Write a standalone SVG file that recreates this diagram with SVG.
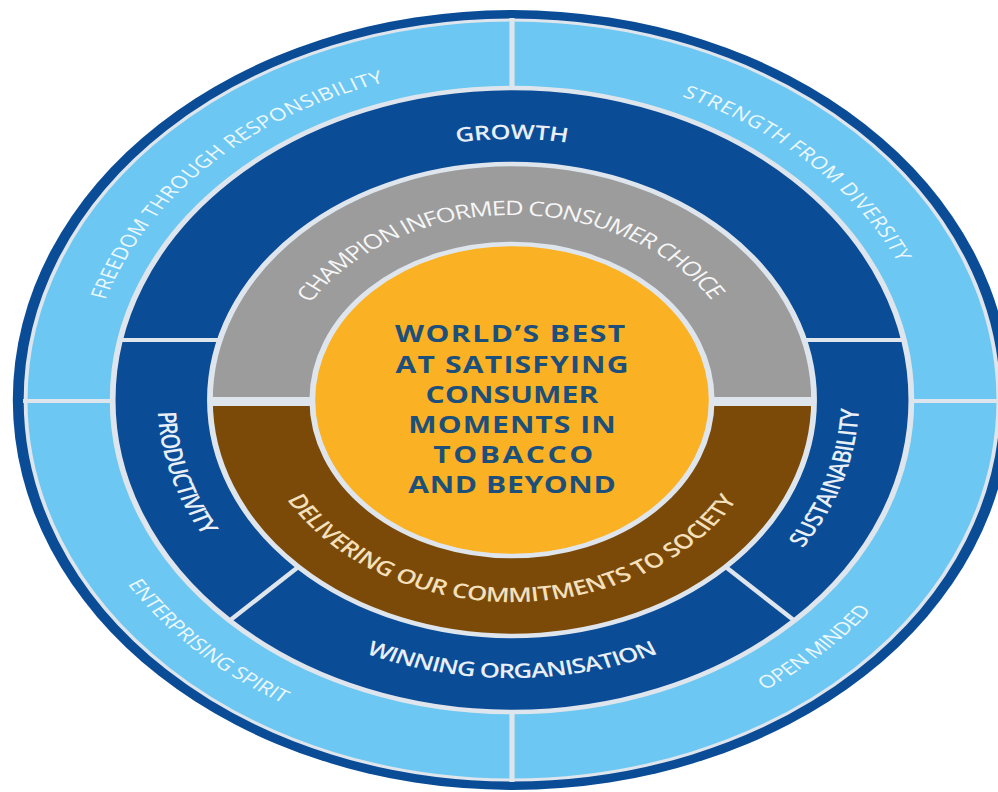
<svg xmlns="http://www.w3.org/2000/svg" width="998" height="792" viewBox="0 0 998 792">
<defs>
<style>
.sep{stroke:#dfe5ec;fill:none}
.lb{fill:#6cc8f2}
.db{fill:#0b4c97}
.t{font-family:"Open Sans","Noto Sans","Liberation Sans",sans-serif}
.outer{font-size:17.5px;font-weight:400;fill:#eef8fd}
.mid{font-size:20px;font-weight:600;fill:#e8eff7}
.gray{font-size:20px;font-weight:500;fill:#f6f6f6}
.brown{font-size:20px;font-weight:600;fill:#f4e0bc}
.core{font-family:"Open Sans","Noto Sans","Liberation Sans",sans-serif;font-size:23.5px;font-weight:700;fill:#1d4f7b;text-anchor:middle}
</style>
<path id="p-freedom" d="M -235.5 235.5 A 333 333 0 0 1 235.5 -235.5"/>
<path id="p-strength" d="M -236.8 -232.7 A 332 332 0 0 1 236.8 232.7"/>
<path id="p-enterprising" d="M -251.6 -247.6 A 353 353 0 0 0 251.6 247.6"/>
<path id="p-open" d="M -253.8 242.5 A 351 351 0 0 0 253.8 -242.5"/>
<path id="p-growth" d="M -261 0 A 261 261 0 0 1 261 0"/>
<path id="p-productivity" d="M -75.9 -266.4 A 277 277 0 0 0 75.9 266.4"/>
<path id="p-sustainability" d="M -82.4 261.3 A 274 274 0 0 0 82.4 -261.3"/>
<path id="p-winning" d="M -278 0 A 278 278 0 0 0 278 0"/>
<path id="p-champion" d="M -185 1.45 A 185 185 0 0 1 185 -1.45"/>
<path id="p-delivering" d="M -202 -0.35 A 202 202 0 0 0 202 0.35"/>
</defs>
<rect width="998" height="792" fill="#ffffff"/>
<g transform="translate(512 400) scale(1.28 1)">
  <circle id="outer-border" r="390" fill="#0b4c97"/>

  <g id="freedom-through-responsibility">
    <path class="lb" d="M -380 0 A 380 380 0 0 1 0 -380 L 0 -312 A 312 312 0 0 0 -312 0 Z"/>
    <text class="t outer" text-anchor="middle"><textPath href="#p-freedom" startOffset="50%" textLength="320" lengthAdjust="spacing">FREEDOM THROUGH RESPONSIBILITY</textPath></text>
  </g>
  <g id="strength-from-diversity">
    <path class="lb" d="M 0 -380 A 380 380 0 0 1 380 0 L 312 0 A 312 312 0 0 0 0 -312 Z"/>
    <text class="t outer" text-anchor="middle"><textPath href="#p-strength" startOffset="50%" textLength="242" lengthAdjust="spacing">STRENGTH FROM DIVERSITY</textPath></text>
  </g>
  <g id="open-minded">
    <path class="lb" d="M 380 0 A 380 380 0 0 1 0 380 L 0 312 A 312 312 0 0 0 312 0 Z"/>
    <text class="t outer" text-anchor="middle"><textPath href="#p-open" startOffset="50%" textLength="116" lengthAdjust="spacing">OPEN MINDED</textPath></text>
  </g>
  <g id="enterprising-spirit">
    <path class="lb" d="M 0 380 A 380 380 0 0 1 -380 0 L -312 0 A 312 312 0 0 0 0 312 Z"/>
    <text class="t outer" text-anchor="middle"><textPath href="#p-enterprising" startOffset="50%" textLength="172" lengthAdjust="spacing">ENTERPRISING SPIRIT</textPath></text>
  </g>

  <g id="growth">
    <path class="db" d="M -306.2 -60 A 312 312 0 0 1 306.2 -60 L 228.2 -60 A 236 236 0 0 0 -228.2 -60 Z"/>
    <text class="t mid" text-anchor="middle"><textPath href="#p-growth" startOffset="50%" textLength="87" lengthAdjust="spacing">GROWTH</textPath></text>
  </g>
  <g id="sustainability">
    <path class="db" d="M 306.2 -60 A 312 312 0 0 1 220.6 220.6 L 166.9 166.9 A 236 236 0 0 0 228.2 -60 Z"/>
    <text class="t mid" text-anchor="middle"><textPath href="#p-sustainability" startOffset="50%" textLength="148" lengthAdjust="spacing">SUSTAINABILITY</textPath></text>
  </g>
  <g id="winning-organisation">
    <path class="db" d="M 220.6 220.6 A 312 312 0 0 1 -220.6 220.6 L -166.9 166.9 A 236 236 0 0 0 166.9 166.9 Z"/>
    <text class="t mid" text-anchor="middle"><textPath href="#p-winning" startOffset="50%" textLength="236" lengthAdjust="spacing">WINNING ORGANISATION</textPath></text>
  </g>
  <g id="productivity">
    <path class="db" d="M -220.6 220.6 A 312 312 0 0 1 -306.2 -60 L -228.2 -60 A 236 236 0 0 0 -166.9 166.9 Z"/>
    <text class="t mid" text-anchor="middle"><textPath href="#p-productivity" startOffset="50%" textLength="130" lengthAdjust="spacing">PRODUCTIVITY</textPath></text>
  </g>

  <g id="champion-informed-consumer-choice">
    <path fill="#9c9c9c" d="M -236 0 A 236 236 0 0 1 236 0 L 156 0 A 156 156 0 0 0 -156 0 Z"/>
    <text class="t gray" text-anchor="middle"><textPath href="#p-champion" startOffset="50%" textLength="374" lengthAdjust="spacing">CHAMPION INFORMED CONSUMER CHOICE</textPath></text>
  </g>
  <g id="delivering-our-commitments">
    <path fill="#7b4a08" d="M 236 0 A 236 236 0 0 1 -236 0 L -156 0 A 156 156 0 0 0 156 0 Z"/>
    <text class="t brown" text-anchor="middle"><textPath href="#p-delivering" startOffset="50%" textLength="426" lengthAdjust="spacing">DELIVERING OUR COMMITMENTS TO SOCIETY</textPath></text>
  </g>

  <g id="dividers" class="sep">
    <circle r="380" stroke-width="3"/>
    <circle r="312" stroke-width="4.5"/>
    <circle r="236" stroke-width="4.5"/>
    <line x1="0" y1="-382" x2="0" y2="-312" stroke-width="4"/>
    <line x1="0" y1="312" x2="0" y2="382" stroke-width="4"/>
    <line x1="-382" y1="1" x2="-312" y2="1" stroke-width="4"/>
    <line x1="312" y1="1" x2="382" y2="1" stroke-width="4"/>
    <line x1="-307" y1="-60" x2="-228" y2="-60" stroke-width="4"/>
    <line x1="228" y1="-60" x2="307" y2="-60" stroke-width="4"/>
    <line x1="-166.9" y1="166.9" x2="-220.6" y2="220.6" stroke-width="4"/>
    <line x1="166.9" y1="166.9" x2="220.6" y2="220.6" stroke-width="4"/>
    <rect x="-237" y="-3" width="82" height="9" fill="#dfe5ec" stroke="none"/>
    <rect x="155" y="-3" width="82" height="9" fill="#dfe5ec" stroke="none"/>
  </g>

  <g id="core">
    <circle r="156" fill="#fbb124" stroke="#dfe5ec" stroke-width="4.5"/>
    <text class="core" x="-1.5" y="-58" textLength="180" lengthAdjust="spacing">WORLD’S BEST</text>
    <text class="core" x="0" y="-27.5" textLength="182" lengthAdjust="spacing">AT SATISFYING</text>
    <text class="core" x="0" y="3" textLength="135" lengthAdjust="spacing">CONSUMER</text>
    <text class="core" x="0" y="33" textLength="162" lengthAdjust="spacing">MOMENTS IN</text>
    <text class="core" x="1" y="63" textLength="125" lengthAdjust="spacing">TOBACCO</text>
    <text class="core" x="0" y="93" textLength="162" lengthAdjust="spacing">AND BEYOND</text>
  </g>
</g>
</svg>
